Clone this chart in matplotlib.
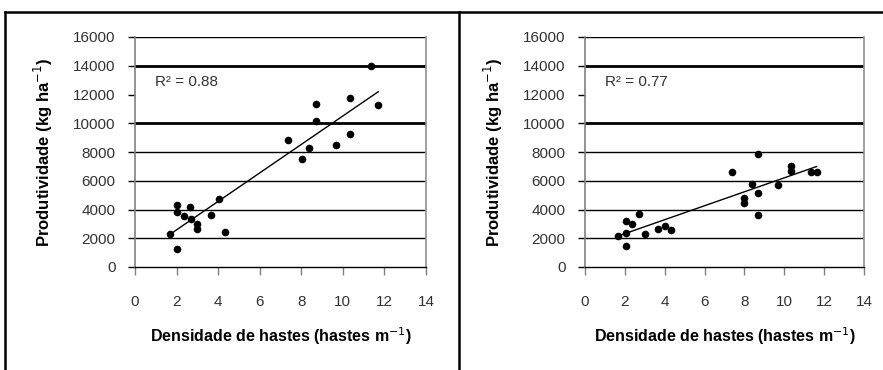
import numpy as np
import matplotlib
matplotlib.use("Agg")
import matplotlib.pyplot as plt
from matplotlib.lines import Line2D

# ---- data ----
x_left = [1.69, 2.0, 2.0, 2.0, 2.36, 2.65, 2.68, 3.0, 3.0, 3.68, 4.03, 4.35,
          7.36, 8.03, 8.37, 8.71, 8.71, 9.69, 10.36, 10.36, 11.37, 11.7]
y_left = [2280, 1280, 4300, 3850, 3560, 4140, 3370, 2980, 2670, 3650, 4720, 2440,
          8840, 7490, 8300, 11350, 10190, 8470, 11770, 9260, 13950, 11280]
x_right = [1.67, 2.04, 2.04, 2.04, 2.34, 2.71, 3.01, 3.66, 4.03, 4.31,
           7.36, 7.99, 7.99, 8.36, 8.66, 8.66, 8.66, 9.7, 10.33, 10.33, 11.32, 11.62]
y_right = [2140, 1440, 2400, 3190, 2980, 3720, 2330, 2630, 2840, 2560,
           6600, 4770, 4470, 5740, 7840, 5120, 3650, 5700, 7050, 6700, 6580, 6630]
r2_labels = ["R² = 0.88", "R² = 0.77"]
x_ticks = [0, 2, 4, 6, 8, 10, 12, 14]
y_ticks = [0, 2000, 4000, 6000, 8000, 10000, 12000, 14000, 16000]
xlabel = "Densidade de hastes (hastes m$^{-1}$)"
ylabel = "Produtividade (kg ha$^{-1}$)"

tick_family = ["Liberation Sans", "DejaVu Sans"]
lab_family = ["Liberation Sans", "DejaVu Sans"]

W, H = 883, 370
fig = plt.figure(figsize=(W / 100, H / 100), dpi=100)

panels = [
    (x_left, y_left, r2_labels[0], 135, 426),
    (x_right, y_right, r2_labels[1], 585, 864),
]

for xs, ys, r2, x0, x1 in panels:
    ax = fig.add_axes([x0 / W, 1 - 267 / H, (x1 - x0) / W, (267 - 37) / H])
    ax.set_xlim(0, 14)
    ax.set_ylim(0, 16000)
    # gridlines
    for yv in y_ticks[1:]:
        if yv == 12000:
            continue
        lw = 2.0 if yv in (10000, 14000) else 1.0
        ax.axhline(yv, color="black", lw=lw, zorder=1)
    ax.scatter(xs, ys, s=30, color="black", zorder=3, linewidths=0)
    # trendline
    xa = np.array(xs)
    ya = np.array(ys)
    k, b = np.polyfit(xa, ya, 1)
    xl = np.array([xa.min(), xa.max()])
    ax.plot(xl, k * xl + b, color="black", lw=1.0, zorder=2)
    ax.text(0.07, 0.805, r2, transform=ax.transAxes, fontsize=11,
            family=tick_family, color="#333333", va="center", ha="left")

    ax.spines["top"].set_visible(False)
    ax.spines["left"].set_color("#808080")
    ax.spines["right"].set_color("#909090")
    ax.spines["left"].set_linewidth(1.2)
    ax.spines["right"].set_linewidth(1.2)
    ax.spines["bottom"].set_color("black")
    ax.spines["bottom"].set_linewidth(1.0)

    ax.set_xticks(x_ticks)
    ax.set_yticks(y_ticks)
    ax.set_xticklabels([str(t) for t in x_ticks], family=tick_family, fontsize=11, color="#333333")
    ax.set_yticklabels([str(t) for t in y_ticks], family=tick_family, fontsize=11, color="#333333")
    ax.tick_params(axis="x", direction="out", length=6, width=1, color="#808080", pad=14)
    ax.tick_params(axis="y", direction="out", length=5, width=1, color="black", pad=9)
    ax.set_xlabel(xlabel, fontsize=11.5, fontweight="bold", family=lab_family, labelpad=12)
    ax.set_ylabel(ylabel, fontsize=12, fontweight="bold", family=lab_family, labelpad=13)

# frame lines
fig.add_artist(Line2D([5 / W, 1], [1 - 12 / H, 1 - 12 / H], color="black", lw=1.8, transform=fig.transFigure))
fig.add_artist(Line2D([5 / W, 5 / W], [0, 1 - 12 / H], color="black", lw=1.8, transform=fig.transFigure))
fig.add_artist(Line2D([459 / W, 459 / W], [0, 1 - 12 / H], color="black", lw=1.8, transform=fig.transFigure))

fig.savefig("out.png", dpi=100)
